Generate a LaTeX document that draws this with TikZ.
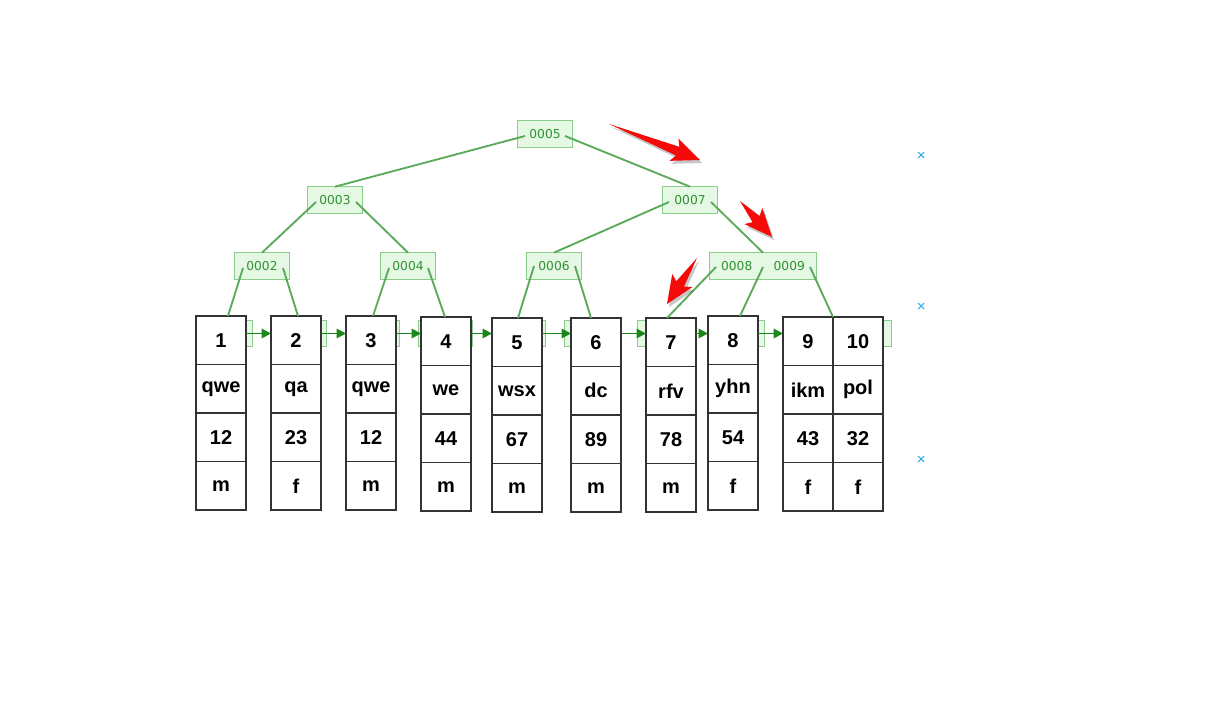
\documentclass[tikz,border=0pt]{standalone}
\usepackage{fontspec}
\setmainfont{Liberation Sans}
\newfontfamily\treefont{DejaVu Sans}
\usetikzlibrary{arrows.meta,positioning,calc}
\definecolor{treefill}{RGB}{228,248,228}
\definecolor{treedraw}{RGB}{140,205,140}
\definecolor{treetext}{RGB}{50,145,50}
\definecolor{treeline}{RGB}{90,170,90}
\definecolor{linkgreen}{RGB}{25,135,25}
\definecolor{arrowred}{RGB}{245,10,10}
\definecolor{markblue}{RGB}{50,170,230}

% red pointer arrow: tail, tip
\newcommand{\redarrow}[2]{%
  \begin{scope}[shift={(2,3)}]
    \fill[black, opacity=0.22] (#1) -- ($(#2)!18pt!(#1)!3.5pt!90:(#2)$) -- ($(#2)!21pt!(#1)!9pt!90:(#2)$) -- (#2) -- ($(#2)!21pt!(#1)!9pt!-90:(#2)$) -- ($(#2)!18pt!(#1)!3.5pt!-90:(#2)$) -- cycle;
  \end{scope}
  \fill[arrowred] (#1) -- ($(#2)!18pt!(#1)!3.5pt!90:(#2)$) -- ($(#2)!21pt!(#1)!9pt!90:(#2)$) -- (#2) -- ($(#2)!21pt!(#1)!9pt!-90:(#2)$) -- ($(#2)!18pt!(#1)!3.5pt!-90:(#2)$) -- cycle;
}

\tikzset{
  treenode/.style={draw=treedraw, fill=treefill, text=treetext, line width=0.9pt,
    minimum width=41pt, minimum height=20pt, inner sep=0pt, outer sep=0pt,
    font=\treefont\fontsize{9.2}{10}\selectfont},
  treeedge/.style={draw=treeline, line width=1.4pt},
  cell/.style={draw=black!80, fill=white, line width=1.1pt, minimum width=37.5pt,
    minimum height=36.4pt, inner sep=0pt, outer sep=0pt,
    font=\bfseries\fontsize{15}{17}\selectfont},
  linkarrow/.style={draw=linkgreen, line width=1.4pt, -{Triangle[length=7pt,width=7pt]}},
}

\begin{document}
\begin{tikzpicture}[x=0.75pt, y=-0.75pt]
    \useasboundingbox (0,0) rectangle (1205,723);

    % Inner nodes
    \node[treenode] (n5) at (545,134) {0005};
    \node[treenode] (n3) at (335,200) {0003};
    \node[treenode] (n7) at (690,200) {0007};
    \node[treenode] (n2) at (262,266) {0002};
    \node[treenode] (n4) at (408,266) {0004};
    \node[treenode] (n6) at (554,266) {0006};
    \node[treenode, minimum width=80pt] (n89) at (763,266) {0008\hspace{16pt}0009};

    % Leaf nodes (behind the rows)
    \foreach \i/\x in {1/225.5, 2/299.5, 3/372.5, 4/445.5, 5/518.5, 6/591.5, 7/664.5, 8/737.5}
        \node[treenode] (l\i) at (\x,333.5) {};
    \node[treenode, minimum width=80pt] (l9) at (838.5,333.5) {};

    % Rows
    \foreach \n/\x/\y/\va/\vb/\vc/\vd in {1/221/316/1/qwe/12/m, 2/296/316/2/qa/23/f,
        3/371/316/3/qwe/12/m, 4/446/317/4/we/44/m, 5/517/318/5/wsx/67/m,
        6/596/318/6/dc/89/m, 7/671/318/7/rfv/78/m, 8/733/316/8/yhn/54/f,
        9/808/317/9/ikm/43/f, 10/858/317/10/pol/32/f} {
        \node[cell, anchor=north] (r\n-1) at (\x,\y) {\va};
        \node[cell, below=0pt of r\n-1] (r\n-2) {\vb};
        \node[cell, below=0pt of r\n-2] (r\n-3) {\vc};
        \node[cell, below=0pt of r\n-3] (r\n-4) {\vd};
    }

    % Tree edges
    \draw[treeedge] ($(n5)+(-20,2)$) -- (n3.north);
    \draw[treeedge] ($(n5)+(20,2)$) -- (n7.north);
    \draw[treeedge] ($(n3)+(-19,2)$) -- (n2.north);
    \draw[treeedge] ($(n3)+(21,2)$) -- (n4.north);
    \draw[treeedge] ($(n7)+(-21,2)$) -- (n6.north);
    \draw[treeedge] ($(n7)+(21,2)$) -- (n89.north);
    \draw[treeedge] ($(n2)+(-19,2)$) -- ($(r1-1.north)+(7,0)$);
    \draw[treeedge] ($(n2)+(21,2)$) -- ($(r2-1.north)+(2,0)$);
    \draw[treeedge] ($(n4)+(-19,2)$) -- ($(r3-1.north)+(2,0)$);
    \draw[treeedge] ($(n4)+(20,2)$) -- ($(r4-1.north)+(-1,0)$);
    \draw[treeedge] ($(n6)+(-20,0)$) -- ($(r5-1.north)+(1,0)$);
    \draw[treeedge] ($(n6)+(21,0)$) -- ($(r6-1.north)+(-5,0)$);
    \draw[treeedge] ($(n89)+(-47,1)$) -- ($(r7-1.north)+(-4,0)$);
    \draw[treeedge] ($(n89)+(0,1)$) -- ($(r8-1.north)+(7,0)$);
    \draw[treeedge] ($(n89)+(47,1)$) -- (r9-1.north east);

    % Leaf links
    \foreach \i/\j in {1/2, 2/3, 3/4, 4/5, 5/6, 6/7, 7/8, 8/9}
        \draw[linkarrow] (l\i.center -| r\i-1.east) -- (l\i.center -| r\j-1.west);

    % Red pointers
    \redarrow{609,124}{700,160}
    \redarrow{740,201}{772,237}
    \redarrow{697,258}{667,304}

    % Marks at the right edge
    \foreach \y in {155,306,459}
        \draw[markblue, line width=0.8pt] (918,\y-3) -- (924,\y+3) (918,\y+3) -- (924,\y-3);
\end{tikzpicture}
\end{document}
